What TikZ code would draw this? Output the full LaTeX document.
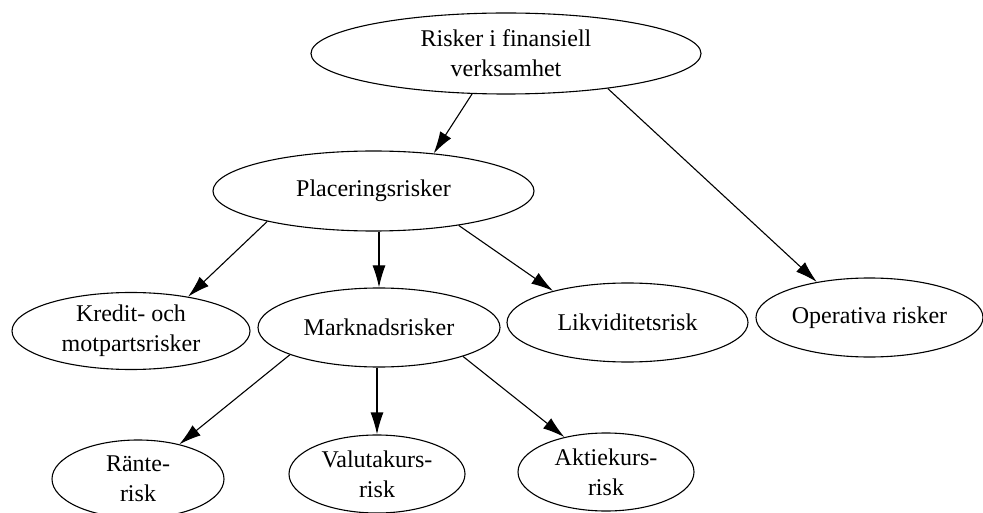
\documentclass[tikz,border=0pt]{standalone}
\usepackage{fontspec}
\setmainfont{Liberation Serif}
\usetikzlibrary{shapes.geometric,arrows.meta}
\begin{document}
\begin{tikzpicture}[x=1pt,y=-1pt,
  bubble/.style={ellipse,draw,line width=1.1pt,inner sep=0pt,align=center,
    font=\fontsize{24}{30}\selectfont},
  arr/.style={line width=1.1pt,-{Latex[length=22pt,width=13pt]}}]
\useasboundingbox (0,0) rectangle (983,513);

% level 0
\node[bubble,minimum width=390pt,minimum height=81pt] (top) at (506,53.5)
  {Risker i finansiell\\verksamhet};
% level 1
\node[bubble,minimum width=321pt,minimum height=80pt] (plac) at (373.5,191)
  {Placeringsrisker};
\node[bubble,minimum width=227pt,minimum height=79pt] (oper) at (869.5,317.5)
  {Operativa risker};
% level 2
\node[bubble,minimum width=238pt,minimum height=77pt] (kred) at (131,331)
  {Kredit- och\\motpartsrisker};
\node[bubble,minimum width=242pt,minimum height=79pt] (mark) at (379,327.5)
  {Marknadsrisker};
\node[bubble,minimum width=241pt,minimum height=79pt] (likv) at (627.5,322.5)
  {Likviditetsrisk};
% level 3
\node[bubble,minimum width=172pt,minimum height=78pt] (rant) at (138,479)
  {Ränte-\\risk};
\node[bubble,minimum width=176pt,minimum height=78pt] (valu) at (377,474)
  {Valutakurs-\\risk};
\node[bubble,minimum width=176pt,minimum height=78pt] (akti) at (606,472)
  {Aktiekurs-\\risk};

% connectors
\draw[arr] (top.230) -- (plac.32);
\draw[arr] (top.341) -- (oper.146);
\draw[arr] (plac.196) -- (kred.31);
\draw[arr] (plac.south -| mark.north) -- (mark.north);
\draw[arr] (plac.338) -- (likv.157);
\draw[arr] (mark.197) -- (rant.40);
\draw[arr] (mark.south -| valu.north) -- (valu.north);
\draw[arr] (mark.341) -- (akti.140);
\end{tikzpicture}
\end{document}
